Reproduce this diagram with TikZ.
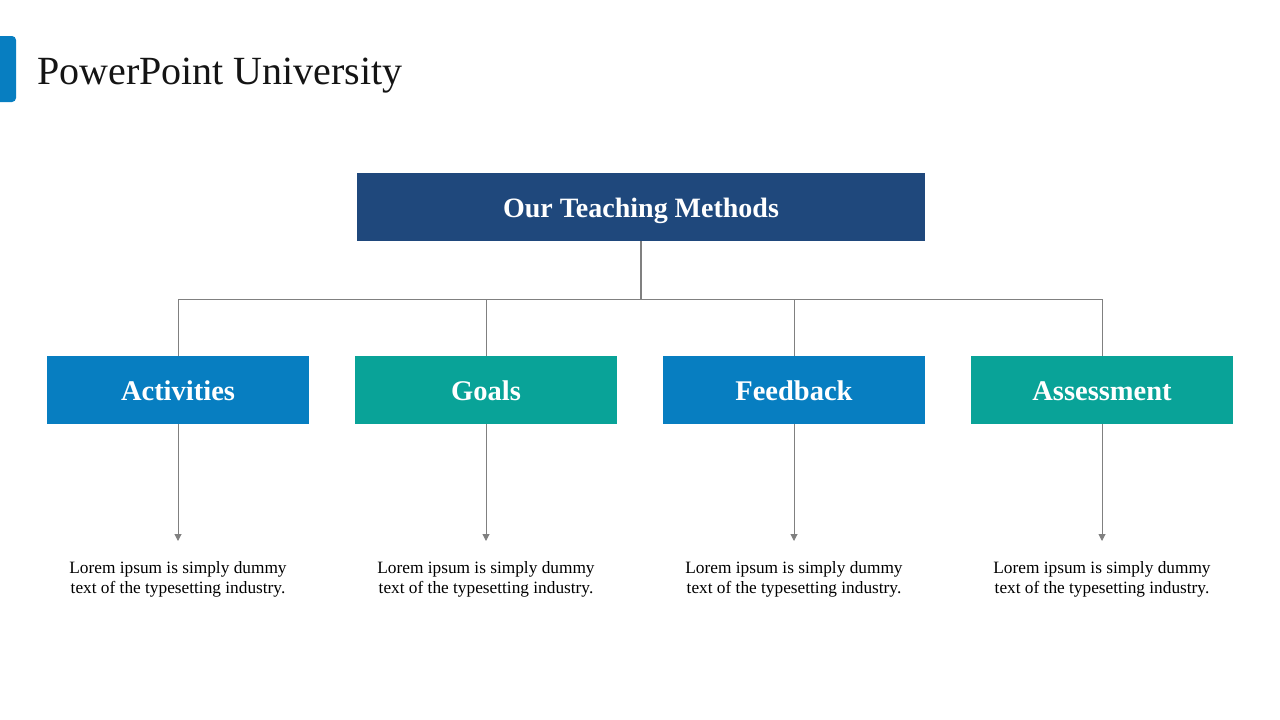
\documentclass[tikz,border=0pt]{standalone}
\usepackage{fontspec}
\setmainfont{Liberation Serif}
\usetikzlibrary{arrows.meta}
\definecolor{navy}{RGB}{31,72,124}
\definecolor{bluebox}{RGB}{7,126,193}
\definecolor{tealbox}{RGB}{9,163,152}
\definecolor{linegray}{RGB}{128,128,128}
\definecolor{titlecol}{RGB}{20,20,20}
\tikzset{
  headbox/.style={fill=navy, minimum width=568pt, minimum height=68pt, inner sep=0pt,
    text height=20pt, text depth=0pt,
    text=white, font=\fontsize{28}{32}\selectfont\bfseries},
  catbox/.style={minimum width=262pt, minimum height=68pt, inner sep=0pt,
    text height=20pt, text depth=0pt,
    text=white, font=\fontsize{28.5}{32}\selectfont\bfseries},
  bluecat/.style={catbox, fill=bluebox},
  tealcat/.style={catbox, fill=tealbox},
  desc/.style={align=center, anchor=north, inner sep=0pt, text=black,
    font=\fontsize{17.3}{20}\selectfont},
  conn/.style={draw=linegray, line width=1pt},
  arr/.style={conn, -{Triangle[width=7pt,length=7pt]}}
}
\begin{document}
\begin{tikzpicture}[x=1pt,y=-1pt]
\useasboundingbox (0,0) rectangle (1280,720);
\fill[white] (0,0) rectangle (1280,720);
% title accent
\fill[bluebox, rounded corners=4pt] (-10,36) rectangle (16,102);
\node[anchor=base west, inner sep=0pt, text=titlecol, font=\fontsize{40}{44}\selectfont] (title) at (37,84) {PowerPoint University};
% top box
\node[headbox] (top) at (641,207) {Our Teaching Methods};
% category boxes
\node[bluecat] (a) at (178,390) {Activities};
\node[tealcat] (g) at (486,390) {Goals};
\node[bluecat] (f) at (794,390) {Feedback};
\node[tealcat] (s) at (1102,390) {Assessment};
% descriptions
\node[desc] (ta) at (178,561) {Lorem ipsum is simply dummy\\text of the typesetting industry.};
\node[desc] (tg) at (486,561) {Lorem ipsum is simply dummy\\text of the typesetting industry.};
\node[desc] (tf) at (794,561) {Lorem ipsum is simply dummy\\text of the typesetting industry.};
\node[desc] (ts) at (1102,561) {Lorem ipsum is simply dummy\\text of the typesetting industry.};
% connectors
\draw[conn, line width=1.4pt] (top.south) -- ++(0,58) coordinate (hub);
\draw[conn] (hub) -| (a.north);
\draw[conn] (hub) -| (g.north);
\draw[conn] (hub) -| (f.north);
\draw[conn] (hub) -| (s.north);
\draw[arr, shorten >=20pt] (a.south) -- (ta.north);
\draw[arr, shorten >=20pt] (g.south) -- (tg.north);
\draw[arr, shorten >=20pt] (f.south) -- (tf.north);
\draw[arr, shorten >=20pt] (s.south) -- (ts.north);
\end{tikzpicture}
\end{document}
